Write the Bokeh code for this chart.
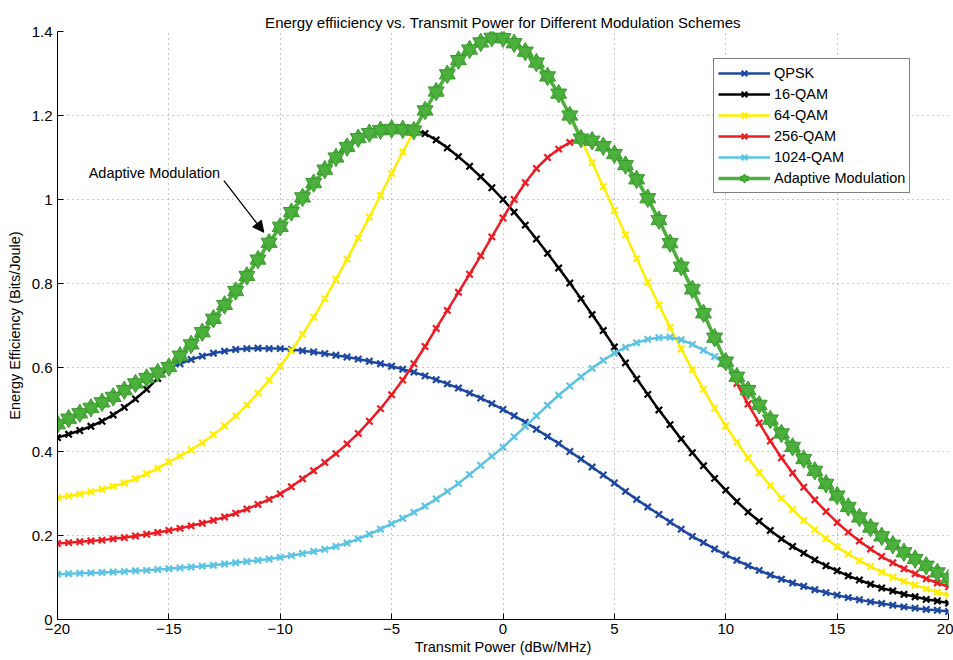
import numpy as np
from bokeh.plotting import figure
from bokeh.models import (Range1d, FixedTicker, Legend, LegendItem, Label, Arrow,
                          NormalHead, CustomJSTickFormatter)
from bokeh.embed import file_html
from bokeh.resources import INLINE

# Transmit power grid (dBW/MHz), 0.5 dB steps
power_dbw = [k / 2 for k in range(-40, 41)]

# Energy efficiency (Bits/Joule) per modulation scheme
qpsk = [
    0.465, 0.478, 0.491, 0.504, 0.517, 0.530, 0.546, 0.562, 0.575, 0.588,
    0.600, 0.609, 0.619, 0.627, 0.634, 0.639, 0.643, 0.645, 0.646, 0.645,
    0.645, 0.643, 0.640, 0.637, 0.633, 0.629, 0.625, 0.620, 0.615, 0.609,
    0.603, 0.596, 0.589, 0.580, 0.571, 0.561, 0.551, 0.539, 0.527, 0.514,
    0.500, 0.485, 0.470, 0.453, 0.436, 0.419, 0.400, 0.382, 0.363, 0.344,
    0.325, 0.305, 0.286, 0.268, 0.250, 0.232, 0.215, 0.198, 0.183, 0.168,
    0.154, 0.141, 0.128, 0.117, 0.106, 0.096, 0.087, 0.079, 0.071, 0.064,
    0.058, 0.052, 0.047, 0.042, 0.038, 0.034, 0.030, 0.027, 0.024, 0.022,
    0.019,
]
qam16 = [
    0.433, 0.441, 0.450, 0.460, 0.472, 0.487, 0.505, 0.525, 0.548, 0.574,
    0.601, 0.628, 0.655, 0.684, 0.716, 0.749, 0.782, 0.818, 0.857, 0.897,
    0.935, 0.970, 1.005, 1.039, 1.071, 1.100, 1.125, 1.146, 1.158, 1.165,
    1.168, 1.167, 1.164, 1.157, 1.142, 1.123, 1.102, 1.079, 1.054, 1.028,
    1.000, 0.970, 0.939, 0.906, 0.872, 0.837, 0.801, 0.764, 0.726, 0.688,
    0.649, 0.611, 0.573, 0.536, 0.499, 0.464, 0.430, 0.397, 0.366, 0.336,
    0.308, 0.281, 0.256, 0.234, 0.212, 0.192, 0.174, 0.158, 0.142, 0.128,
    0.116, 0.104, 0.094, 0.084, 0.075, 0.068, 0.060, 0.054, 0.048, 0.044,
    0.039,
]
qam64 = [
    0.290, 0.294, 0.299, 0.304, 0.310, 0.317, 0.325, 0.335, 0.347, 0.360,
    0.375, 0.389, 0.404, 0.421, 0.440, 0.461, 0.485, 0.511, 0.539, 0.570,
    0.603, 0.640, 0.679, 0.720, 0.764, 0.810, 0.858, 0.908, 0.958, 1.010,
    1.062, 1.113, 1.163, 1.212, 1.257, 1.298, 1.332, 1.357, 1.374, 1.385,
    1.384, 1.372, 1.352, 1.326, 1.293, 1.252, 1.200, 1.142, 1.088, 1.031,
    0.974, 0.916, 0.859, 0.803, 0.749, 0.696, 0.644, 0.595, 0.548, 0.503,
    0.461, 0.422, 0.385, 0.350, 0.319, 0.289, 0.262, 0.236, 0.214, 0.193,
    0.173, 0.156, 0.140, 0.126, 0.113, 0.101, 0.091, 0.082, 0.073, 0.065,
    0.058,
]
qam256 = [
    0.181, 0.183, 0.185, 0.187, 0.189, 0.192, 0.195, 0.199, 0.203, 0.207,
    0.212, 0.217, 0.223, 0.229, 0.236, 0.244, 0.253, 0.263, 0.274, 0.286,
    0.299, 0.316, 0.335, 0.354, 0.374, 0.395, 0.418, 0.443, 0.472, 0.502,
    0.535, 0.570, 0.609, 0.650, 0.693, 0.736, 0.779, 0.822, 0.866, 0.911,
    0.956, 1.000, 1.040, 1.074, 1.100, 1.120, 1.136, 1.145, 1.140, 1.127,
    1.108, 1.082, 1.048, 1.003, 0.951, 0.896, 0.840, 0.786, 0.729, 0.671,
    0.614, 0.562, 0.513, 0.468, 0.425, 0.385, 0.349, 0.315, 0.285, 0.257,
    0.231, 0.208, 0.187, 0.168, 0.150, 0.135, 0.121, 0.109, 0.097, 0.087,
    0.078,
]
qam1024 = [
    0.108, 0.109, 0.110, 0.111, 0.112, 0.113, 0.114, 0.116, 0.117, 0.119,
    0.121, 0.123, 0.125, 0.127, 0.129, 0.132, 0.135, 0.138, 0.141, 0.144,
    0.148, 0.152, 0.157, 0.162, 0.167, 0.174, 0.182, 0.192, 0.203, 0.215,
    0.228, 0.241, 0.255, 0.270, 0.287, 0.305, 0.324, 0.345, 0.367, 0.389,
    0.410, 0.435, 0.460, 0.485, 0.510, 0.534, 0.556, 0.578, 0.598, 0.617,
    0.634, 0.648, 0.659, 0.667, 0.671, 0.672, 0.666, 0.655, 0.641, 0.626,
    0.607, 0.578, 0.546, 0.511, 0.476, 0.443, 0.411, 0.382, 0.354, 0.323,
    0.295, 0.268, 0.243, 0.219, 0.198, 0.178, 0.160, 0.144, 0.128, 0.112,
    0.098,
]

# Adaptive modulation picks the best scheme at every power level
adaptive = np.max(np.vstack([qpsk, qam16, qam64, qam256, qam1024]), axis=0)

series_names = ["QPSK", "16-QAM", "64-QAM", "256-QAM", "1024-QAM"]
series_values = [qpsk, qam16, qam64, qam256, qam1024]
series_colors = ["#1d47a0", "#000000", "#ffee00", "#ec1c24", "#5cc3e4"]
adaptive_label = "Adaptive Modulation"
green = "#4cb03c"
green_edge = "#3a9a2e"

x_ticks = [-20, -15, -10, -5, 0, 5, 10, 15, 20]
y_ticks = [0, 0.2, 0.4, 0.6, 0.8, 1, 1.2, 1.4]

FONT = "Liberation Sans"

p = figure(width=953, height=660,
           x_range=Range1d(-20, 20), y_range=Range1d(0, 1.4),
           output_backend="svg", toolbar_location=None,
           min_border_left=57, min_border_right=5,
           min_border_top=31, min_border_bottom=41,
           title="Energy effiiciency vs. Transmit Power for Different Modulation Schemes")
p.background_fill_color = "white"
p.border_fill_color = "white"
p.outline_line_color = None

p.title.align = "center"
p.title.text_font = FONT
p.title.text_font_size = "15px"
p.title.text_font_style = "normal"
p.title.text_color = "#000000"
p.title.standoff = 2

# axes
for ax in (p.xaxis[0], p.yaxis[0]):
    ax.axis_line_color = "black"
    ax.axis_line_width = 1
    ax.major_tick_in = 6
    ax.major_tick_out = 0
    ax.minor_tick_line_color = None
    ax.major_tick_line_color = "black"
    ax.major_label_text_font = FONT
    ax.major_label_text_font_size = "15px"
    ax.major_label_text_color = "#000000"
    ax.axis_label_text_font = FONT
    ax.axis_label_text_font_size = "14.5px"
    ax.axis_label_text_font_style = "normal"
    ax.axis_label_text_color = "#000000"

p.xaxis.ticker = FixedTicker(ticks=x_ticks)
p.yaxis.ticker = FixedTicker(ticks=y_ticks)
p.xaxis.formatter = CustomJSTickFormatter(
    code="return tick < 0 ? '\u2212' + (-tick).toString() : tick.toString();")
p.yaxis.formatter = CustomJSTickFormatter(code="return tick.toString();")
p.xaxis.axis_label = "Transmit Power (dBw/MHz)"
p.yaxis.axis_label = "Energy Efficiency (Bits/Joule)"
p.xaxis.major_label_standoff = 4
p.xaxis.axis_label_standoff = 2
p.yaxis.major_label_standoff = 5
p.yaxis.axis_label_standoff = 6

# dotted grid
p.xgrid.ticker = FixedTicker(ticks=x_ticks)
p.ygrid.ticker = FixedTicker(ticks=y_ticks)
for g in (p.xgrid[0], p.ygrid[0]):
    g.grid_line_color = "#8c8c8c"
    g.grid_line_dash = "1 4"
    g.grid_line_width = 1

items = []
for name, vals, color in zip(series_names, series_values, series_colors):
    ln = p.line(power_dbw, vals, line_color=color, line_width=2.5)
    mk = p.scatter(power_dbw, vals, marker="x", size=9, line_color=color, line_width=2.2)
    items.append(LegendItem(label=name, renderers=[ln, mk]))

# adaptive curve with hexagram markers (two stacked triangles)
aln = p.line(power_dbw, adaptive, line_color=green, line_width=3.5)
up = p.scatter(power_dbw, adaptive, marker="triangle", size=16,
               fill_color=green, line_color=green_edge, line_width=1)
dn = p.scatter(power_dbw, adaptive, marker="inverted_triangle", size=16,
               fill_color=green, line_color=green_edge, line_width=1)
items.append(LegendItem(label=adaptive_label, renderers=[aln, up, dn]))

legend = Legend(items=items, location=(656, 426))
legend.border_line_color = "black"
legend.border_line_width = 1.5
legend.background_fill_color = "white"
legend.background_fill_alpha = 1
legend.label_text_font = FONT
legend.label_text_font_size = "14.5px"
legend.label_text_color = "#000000"
legend.glyph_width = 52
legend.glyph_height = 20
legend.label_height = 20
legend.label_standoff = 4
legend.spacing = 1
legend.padding = 4
legend.margin = 0
p.add_layout(legend)

# callout pointing at the adaptive curve
p.add_layout(Label(x=-18.6, y=1.064, text=adaptive_label,
                   text_font=FONT, text_font_size="14.5px",
                   text_baseline="middle", text_align="left", text_color="#000000"))
p.add_layout(Arrow(end=NormalHead(size=11, fill_color="black", line_color="black"),
                   x_start=-12.53, y_start=1.045, x_end=-10.74, y_end=0.922,
                   line_color="black", line_width=1.3))

open("out.html", "w").write(file_html(p, INLINE))
